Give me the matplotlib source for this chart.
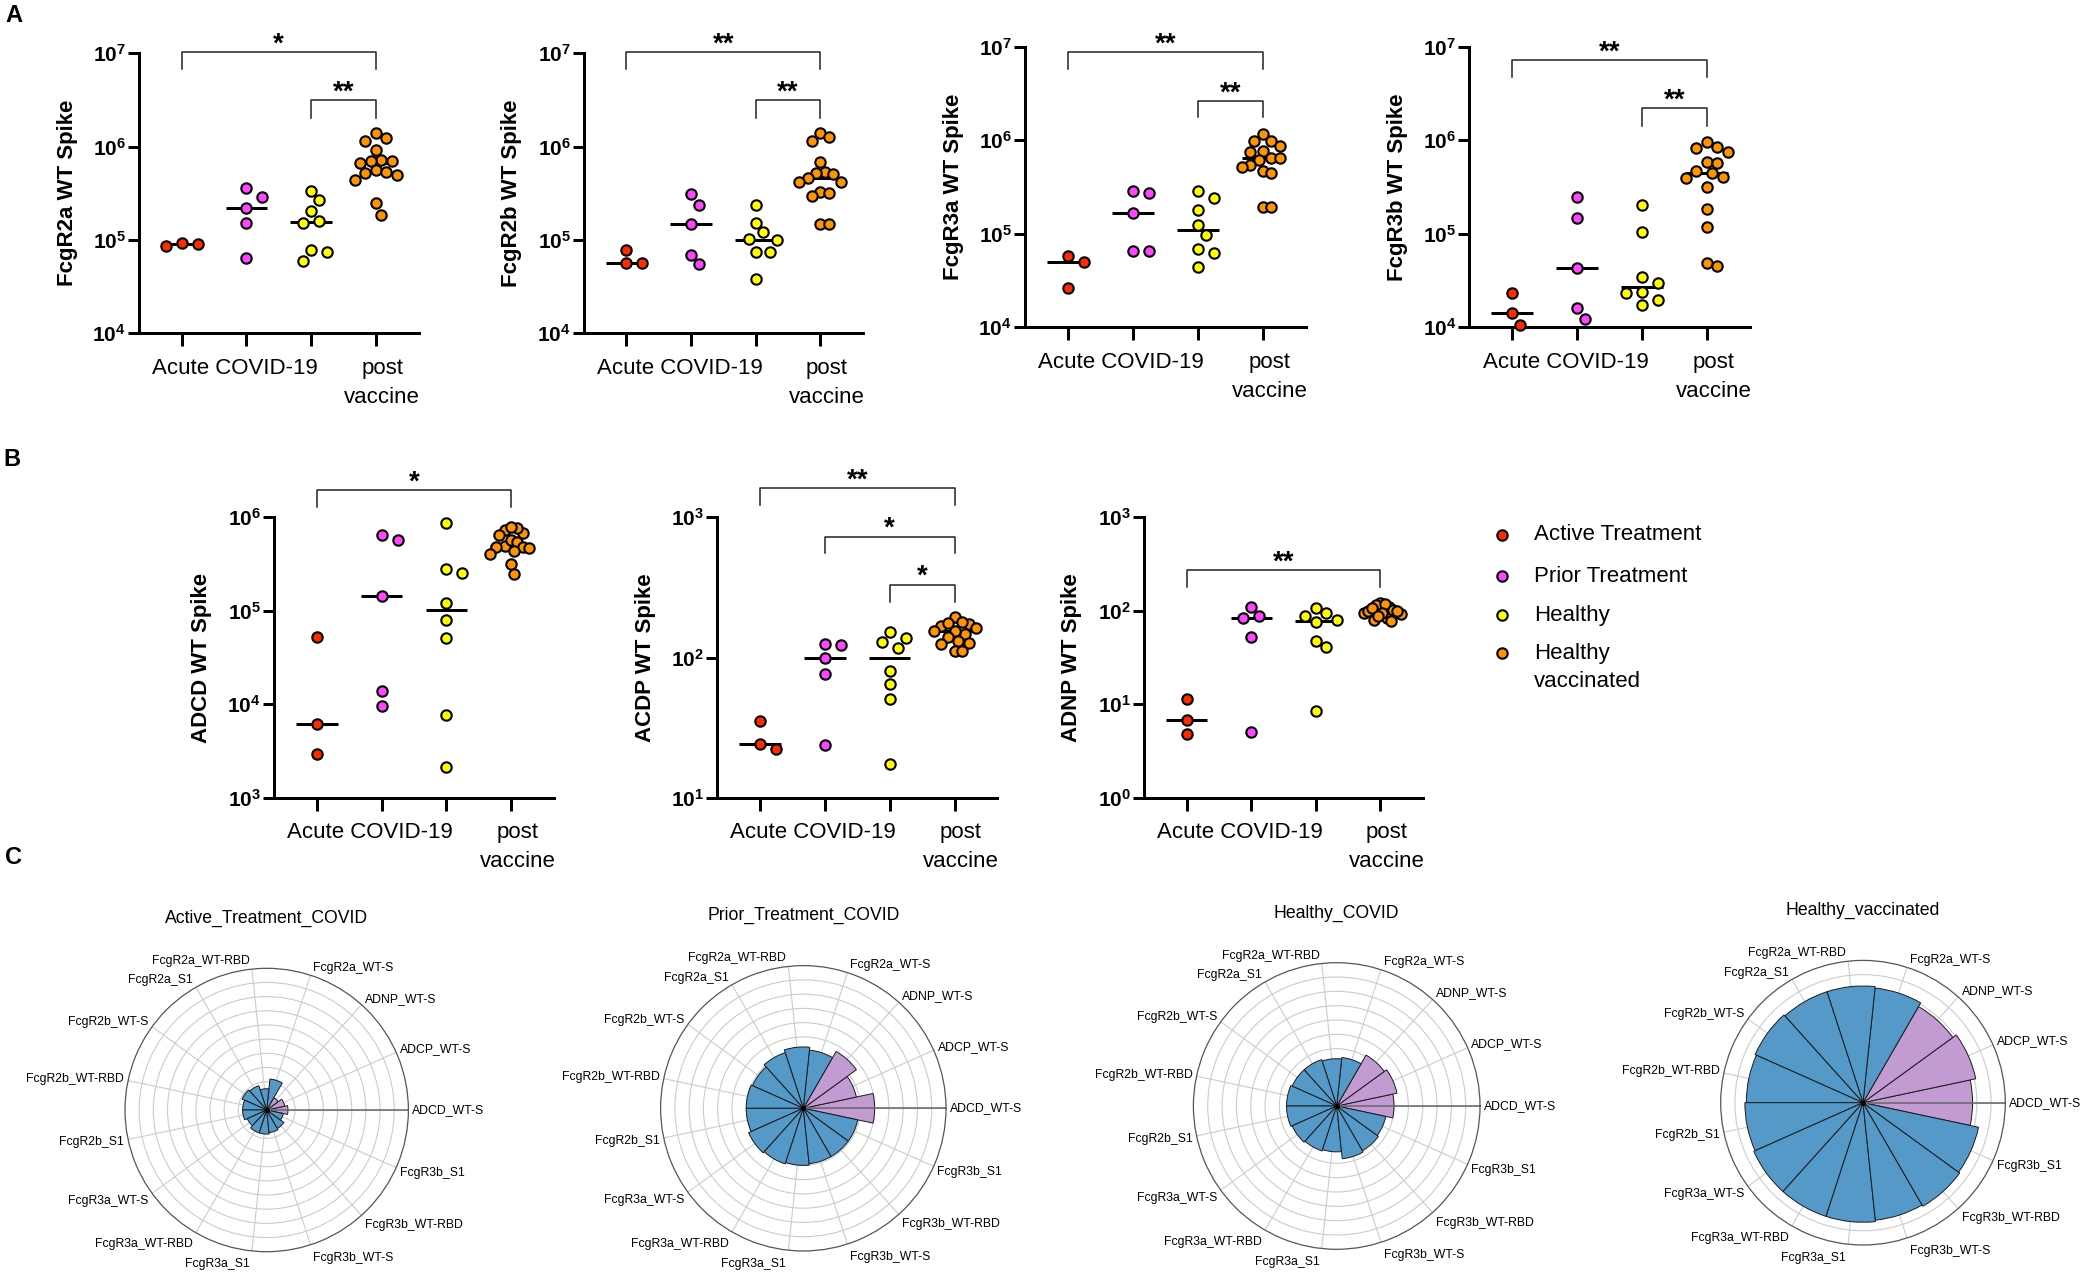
import numpy as np
import matplotlib
matplotlib.use("Agg")
import matplotlib.pyplot as plt
from matplotlib.lines import Line2D
from matplotlib.ticker import FixedLocator, NullLocator

plt.rcParams['font.family'] = 'Liberation Sans'
plt.rcParams['mathtext.fontset'] = 'custom'
plt.rcParams['mathtext.rm'] = 'Liberation Sans'
plt.rcParams['mathtext.bf'] = 'Liberation Sans:bold'
plt.rcParams['mathtext.it'] = 'Liberation Sans:italic'

W, H = 2085, 1274   # output size in pixels
DPI = 100
PT = 72.0 / DPI     # points per pixel

# ---------------- data ----------------
group_names = ['Active Treatment', 'Prior Treatment', 'Healthy', 'Healthy\nvaccinated']
group_colors = ['#FF2A00', '#FF45FF', '#FFFF00', '#FF9400']
x_group_labels = ['Acute COVID-19', 'post\nvaccine']
x_group_pos = [0.82, 3.1]

# panel A (order: active, prior, healthy, healthy vaccinated)
fcgr2a_wt = [
    [86000, 93000, 90000],
    [358000, 291000, 218000, 153000, 64000],
    [338000, 268000, 206000, 161000, 153000, 79000, 74000, 60000],
    [1390000, 1230000, 1160000, 920000, 720000, 702000, 700000, 674000,
     562000, 540000, 518000, 497000, 439000, 247000, 185000],
]
fcgr2b_wt = [
    [56000, 78000, 57000],
    [309000, 237000, 148000, 69000, 55000],
    [237000, 151000, 121000, 102000, 100000, 75000, 74000, 38000],
    [1390000, 1280000, 1160000, 690000, 540000, 518000, 515000, 458000,
     422000, 420000, 330000, 316000, 296000, 148000, 147000],
]
fcgr3a_wt = [
    [58000, 50000, 26500],
    [286000, 270000, 165000, 66000, 65500],
    [289000, 243000, 180000, 123000, 97000, 69000, 62000, 44000],
    [1160000, 980000, 975000, 874000, 773000, 754000, 640000, 638000,
     614000, 543000, 521000, 472000, 443000, 195000, 194000],
]
fcgr3b_wt = [
    [23000, 14100, 10600],
    [249000, 149000, 43000, 16000, 12200],
    [203000, 105000, 34800, 29500, 24000, 23000, 19600, 17300],
    [965000, 853000, 832000, 754000, 580000, 566000, 469000, 450000,
     407000, 391000, 313000, 184000, 119000, 48300, 45600],
]

# panel B
adcd_wt = [
    [52900, 6100, 2930],
    [643000, 573000, 145000, 14000, 9600],
    [863000, 278000, 252000, 122000, 79800, 51500, 7670, 2150],
    [686000, 732000, 763000, 782000, 648000, 494000, 573000, 550000,
     486000, 466000, 484000, 405000, 440000, 317000, 248000],
]
adcp_wt = [
    [35.3, 22.4, 24.1],
    [123, 125, 99.7, 76.7, 23.7],
    [152, 138, 129, 117.5, 80.2, 64.4, 50.9, 17.3],
    [194, 167, 174, 163, 176, 148, 155, 154, 132, 140, 112, 111, 125, 127, 179],
]
adnp_wt = [
    [11.3, 6.78, 4.81],
    [111, 88.7, 84.5, 52, 5.09],
    [106, 88, 94, 79.8, 76.6, 47.9, 40.6, 8.53],
    [122, 111, 115, 118, 84.5, 95.5, 94, 92.4, 99, 77.8, 79, 102, 106, 98.5, 88],
]

# significance brackets: (group i, group j, label, bar level, leg end)
sig_fcgr2a = [(0, 3, '*', 10**7.011, 10**6.829), (2, 3, '**', 10**6.5, 10**6.31)]
sig_fcgr2b = [(0, 3, '**', 10**7.011, 10**6.829), (2, 3, '**', 10**6.5, 10**6.31)]
sig_fcgr3a = [(0, 3, '**', 10**6.94, 10**6.758), (2, 3, '**', 10**6.42, 10**6.246)]
sig_fcgr3b = [(0, 3, '**', 10**6.857, 10**6.679), (2, 3, '**', 10**6.343, 10**6.154)]
sig_adcd = [(0, 3, '*', 10**6.292, 10**6.113)]
sig_adcp = [(0, 3, '**', 10**3.209, 10**3.09), (1, 3, '*', 10**2.863, 10**2.744),
            (2, 3, '*', 10**2.52, 10**2.396)]
sig_adnp = [(0, 3, '**', 10**2.436, 10**2.258)]

# panel C : polar summary (fraction of full scale)
polar_features = ['ADCD_WT-S', 'ADCP_WT-S', 'ADNP_WT-S',
                  'FcgR2a_WT-S', 'FcgR2a_WT-RBD', 'FcgR2a_S1',
                  'FcgR2b_WT-S', 'FcgR2b_WT-RBD', 'FcgR2b_S1',
                  'FcgR3a_WT-S', 'FcgR3a_WT-RBD', 'FcgR3a_S1',
                  'FcgR3b_WT-S', 'FcgR3b_WT-RBD', 'FcgR3b_S1']
polar_active = [0.15, 0.13, 0.10, 0.22, 0.15, 0.18, 0.19, 0.17, 0.17, 0.15, 0.17, 0.17, 0.16, 0.15, 0.12]
polar_prior = [0.50, 0.38, 0.46, 0.41, 0.43, 0.41, 0.39, 0.40, 0.40, 0.42, 0.41, 0.40, 0.39, 0.39, 0.39]
polar_healthy = [0.40, 0.43, 0.41, 0.34, 0.33, 0.34, 0.34, 0.35, 0.35, 0.34, 0.33, 0.32, 0.37, 0.36, 0.35]
polar_vacc = [0.77, 0.81, 0.78, 0.81, 0.82, 0.82, 0.83, 0.82, 0.83, 0.84, 0.84, 0.84, 0.83, 0.84, 0.83]

fig = plt.figure(figsize=(W / DPI, H / DPI), dpi=DPI)


def swarm(ypix, d=12.0, step=8.0, max_spread=21.0):
    # simple beeswarm on a grid of half-columns, in pixels;
    # crowded groups get squeezed so they overlap like in Prism
    order = np.argsort(-ypix)
    offs = np.zeros(len(ypix))
    placed = []
    cands = [0.0]
    for m in range(1, 15):
        cands += [m * step, -m * step]
    for i in order:
        y = ypix[i]
        for c in cands:
            if all((c - px) ** 2 + (y - py) ** 2 >= d * d for px, py in placed):
                offs[i] = c
                break
        placed.append((offs[i], y))
    widest = np.abs(offs).max()
    if widest > max_spread:
        offs = offs * max_spread / widest
    return offs


def strip_panel(rect, groups, ylim, ylabel, ylabel_x, brackets):
    l, t, r, b = rect
    ax = fig.add_axes([l / W, 1 - b / H, (r - l) / W, (b - t) / H])
    ax.set_yscale('log')
    ax.set_xlim(-0.66, 3.66)
    ax.set_ylim(*ylim)
    exps = range(int(round(np.log10(ylim[0]))), int(round(np.log10(ylim[1]))) + 1)
    ax.yaxis.set_major_locator(FixedLocator([10.0 ** e for e in exps]))
    ax.yaxis.set_minor_locator(NullLocator())
    ax.set_yticklabels([r'$\mathbf{10^{%d}}$' % e for e in exps])
    ax.set_xticks(range(4))
    ax.set_xticklabels([])
    ax.spines['top'].set_visible(False)
    ax.spines['right'].set_visible(False)
    ax.spines['left'].set_linewidth(3 * PT)
    ax.spines['bottom'].set_linewidth(3 * PT)
    ax.tick_params(axis='y', length=11 * PT, width=3 * PT, pad=2 * PT, labelsize=15)
    ax.tick_params(axis='x', length=13 * PT, width=3 * PT)
    ax.patch.set_alpha(0)

    xscale = (ax.get_xlim()[1] - ax.get_xlim()[0]) / (r - l)
    for i, vals in enumerate(groups):
        vals = np.asarray(vals, float)
        ypix = ax.transData.transform(np.column_stack([np.full(len(vals), i), vals]))[:, 1]
        dx = swarm(ypix) * xscale
        med = np.median(vals)
        ax.plot([i - 0.32, i + 0.32], [med, med], color='black', lw=3 * PT,
                solid_capstyle='butt', zorder=2)
        ax.scatter(i + dx, vals, s=56, c=group_colors[i], edgecolors='black',
                   linewidths=1.5, zorder=3, clip_on=False)

    for i, j, lab, ybar, yleg in brackets:
        ax.plot([i, i, j, j], [yleg, ybar, ybar, yleg], color='#222222', lw=1.1,
                clip_on=False)
        ax.annotate(lab, xy=((i + j) / 2, ybar), xytext=(0, 0.5), textcoords='offset points',
                    ha='center', va='baseline', fontsize=20, fontweight='bold',
                    annotation_clip=False)

    for txt, pos in zip(x_group_labels, x_group_pos):
        for k, line in enumerate(txt.split('\n')):
            ax.annotate(line, xy=(pos, 0), xycoords=('data', 'axes fraction'),
                        xytext=(0, -(35 + 29 * k) * PT), textcoords='offset points',
                        ha='center', va='center', fontsize=16, annotation_clip=False)

    fig.text(ylabel_x / W, 1 - (t + b) / 2 / H, ylabel, rotation=90, ha='center',
             va='center', fontsize=16, fontweight='bold')
    return ax


def polar_panel(cx, cy, R, values, title, title_y):
    ax = fig.add_axes([(cx - R) / W, 1 - (cy + R) / H, 2 * R / W, 2 * R / H],
                      projection='polar')
    n = len(polar_features)
    theta = np.deg2rad(np.arange(n) * 360.0 / n)
    ax.set_ylim(0, 1)
    ax.set_axisbelow(True)
    ax.set_xticks(theta)
    ax.set_xticklabels([])
    ax.set_yticks(np.arange(1, 10) / 10.0)
    ax.set_yticklabels([])
    ax.grid(True, color='#cccccc', lw=0.8)
    ax.spines['polar'].set_color('#555555')
    ax.spines['polar'].set_linewidth(0.9)
    colors = ['#C39BD3'] * 3 + ['#5499C8'] * (n - 3)
    ax.bar(theta, values, width=2 * np.pi / n, color=colors, edgecolor='#1a1a1a',
           linewidth=0.7, zorder=3)
    ax.plot([0, 0], [0, 1], color='#666666', lw=1.1, zorder=4)
    ax.plot([0], [0], 'o', ms=2.5, color='black', zorder=5)
    for th, lab in zip(theta, polar_features):
        c, s = np.cos(th), np.sin(th)
        sgn = 1 if c >= 0 else -1
        dx = sgn * (2 + 2 * abs(c))
        dy = s * (8 if s > 0 else 13.5)
        ax.annotate(lab, xy=(th, 1), xytext=(dx * PT, dy * PT), textcoords='offset points',
                    ha='left' if c >= 0 else 'right', va='center', fontsize=8.8,
                    annotation_clip=False)
    fig.text(cx / W, 1 - title_y / H, title, ha='center', va='center', fontsize=12.7)
    return ax


# ---- A ----
strip_panel((139, 53.3, 418.5, 333.3), fcgr2a_wt, (1e4, 1e7), 'FcgR2a WT Spike', 67.5, sig_fcgr2a)
strip_panel((583.7, 53.3, 863, 333.3), fcgr2b_wt, (1e4, 1e7), 'FcgR2b WT Spike', 512, sig_fcgr2b)
strip_panel((1024.8, 46.7, 1305.8, 327.3), fcgr3a_wt, (1e4, 1e7), 'FcgR3a WT Spike', 953, sig_fcgr3a)
strip_panel((1469.4, 46.7, 1749.7, 327.3), fcgr3b_wt, (1e4, 1e7), 'FcgR3b WT Spike', 1398, sig_fcgr3b)

# ---- B ----
strip_panel((274, 517.3, 554, 797.7), adcd_wt, (1e3, 1e6), 'ADCD WT Spike', 202, sig_adcd)
strip_panel((717.3, 517.3, 997.3, 797.7), adcp_wt, (1e1, 1e3), 'ACDP WT Spike', 645, sig_adcp)
strip_panel((1144, 517.3, 1423, 797.7), adnp_wt, (1e0, 1e3), 'ADNP WT Spike', 1072, sig_adnp)

# legend
leg_rows = [535, 576, 615, 653]
for name, col, y in zip(group_names, group_colors, leg_rows):
    fig.add_artist(Line2D([1502 / W], [1 - y / H], transform=fig.transFigure, marker='o',
                          ms=7.5, mfc=col, mec='black', mew=1.5, ls='none'))
    for k, line in enumerate(name.split('\n')):
        fig.text(1534 / W, 1 - (y + 29 * k) / H, line, ha='left', va='center', fontsize=16)

# ---- C ----
polar_panel(266.7, 1110, 141.7, polar_active, 'Active_Treatment_COVID', 918)
polar_panel(803.3, 1108.3, 142.7, polar_prior, 'Prior_Treatment_COVID', 915)
polar_panel(1336.7, 1106, 143.3, polar_healthy, 'Healthy_COVID', 913)
polar_panel(1863, 1102.7, 142.3, polar_vacc, 'Healthy_vaccinated', 910)

# panel letters
for lab, x, y in [('A', 14, 15), ('B', 12, 459), ('C', 13, 858)]:
    fig.text(x / W, 1 - y / H, lab, ha='center', va='center', fontsize=17, fontweight='bold')

fig.savefig('out.png', dpi=DPI)
